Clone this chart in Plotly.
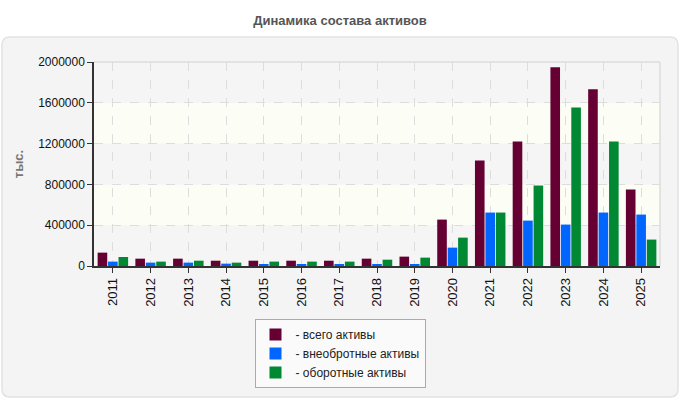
import plotly.graph_objects as go

years = ["2011", "2012", "2013", "2014", "2015", "2016", "2017", "2018", "2019",
         "2020", "2021", "2022", "2023", "2024", "2025"]
total_assets = [131000, 72000, 72000, 52000, 52000, 52000, 52000, 72000, 92000,
                455000, 1034000, 1221000, 1948000, 1732000, 750000]
noncurrent_assets = [43000, 33000, 33000, 23000, 13000, 13000, 13000, 13000, 13000,
                     180000, 524000, 445000, 406000, 524000, 504000]
current_assets = [88000, 43000, 52000, 33000, 43000, 43000, 43000, 62000, 82000,
                  278000, 524000, 789000, 1555000, 1221000, 259000]
y_ticks = [0, 400000, 800000, 1200000, 1600000, 2000000]

names = ["- всего активы", "- внеобротные активы", "- оборотные активы"]
colors = ["#660033", "#0066ff", "#008833"]
series = [total_assets, noncurrent_assets, current_assets]

fig = go.Figure()
for n, c, s in zip(names, colors, series):
    fig.add_trace(go.Bar(x=years, y=s, name=n,
                         marker=dict(color=c, line=dict(width=0))))

W, H = 680, 400
ml, mr, mt, mb = 94, 20, 62, 134
pw, ph = W - ml - mr, H - mt - mb

# bands in plot area
band_shapes = []
for i in range(len(y_ticks) - 1):
    fill = "#f5f5f5" if i % 2 == 0 else "#fcfdf5"
    band_shapes.append(dict(type="rect", xref="x domain", yref="y", x0=0, x1=1,
                            y0=y_ticks[i], y1=y_ticks[i + 1], fillcolor=fill,
                            line=dict(width=0), layer="below"))
band_shapes.append(dict(type="line", xref="x domain", yref="y domain", x0=0, x1=1, y0=1, y1=1,
                        line=dict(color="#dddddd", width=1.5), layer="above"))
band_shapes.append(dict(type="line", xref="x domain", yref="y domain", x0=1, x1=1, y0=0, y1=1,
                        line=dict(color="#dddddd", width=1.5), layer="above"))

# panel as rounded rect in paper coords
px0 = (2 - ml) / pw
px1 = (678 - ml) / pw
py_top = 1 + (mt - 37) / ph
py_bot = -(397 - mt - ph) / ph
rx = 8 / pw
ry = 8 / ph
path = (f"M {px0 + rx},{py_top} L {px1 - rx},{py_top} Q {px1},{py_top} {px1},{py_top - ry} "
        f"L {px1},{py_bot + ry} Q {px1},{py_bot} {px1 - rx},{py_bot} "
        f"L {px0 + rx},{py_bot} Q {px0},{py_bot} {px0},{py_bot + ry} "
        f"L {px0},{py_top - ry} Q {px0},{py_top} {px0 + rx},{py_top} Z")
panel = dict(type="path", xref="paper", yref="paper", path=path, fillcolor="#f4f4f4",
             line=dict(color="#e2e2e2", width=1.5), layer="below")

fig.update_layout(
    width=W, height=H,
    margin=dict(l=ml, r=mr, t=mt, b=mb, autoexpand=False),
    paper_bgcolor="white",
    plot_bgcolor="rgba(0,0,0,0)",
    font=dict(family="Liberation Sans, Arial, sans-serif", size=12, color="#222"),
    title=dict(text="<b>Динамика состава активов</b>", x=0.5, xref="container",
               xanchor="center", y=1 - 20 / H, yref="container", yanchor="middle",
               font=dict(size=13, color="#555555")),
    barmode="group", bargap=0.17, bargroupgap=0.08,
    shapes=[panel] + band_shapes,
    showlegend=True,
    legend=dict(xref="container", yref="container", x=0.5, xanchor="center",
                y=1 - 319 / H, yanchor="top", bgcolor="#fafafa",
                bordercolor="#aaaaaa", borderwidth=1,
                font=dict(size=12, color="#222222"), tracegroupgap=0,
                itemwidth=30),
    xaxis=dict(tickangle=-90, showgrid=True, gridcolor="#dddddd", griddash="dash",
               gridwidth=1, showline=True, linecolor="#333333", linewidth=1.5,
               ticks="outside", ticklen=5, tickcolor="#333333",
               tickfont=dict(size=13, color="#111111"), zeroline=False),
    yaxis=dict(range=[0, 2000000], tickvals=y_ticks, tickformat="d",
               showgrid=True, gridcolor="#dddddd", griddash="dash", gridwidth=1,
               showline=True, linecolor="#333333", linewidth=1.5,
               ticks="outside", ticklen=5, tickcolor="#333333",
               tickfont=dict(size=12, color="#111111"), zeroline=False,
               title=dict(text="<b>тыс.</b>", font=dict(size=13, color="#777777"),
                          standoff=12)),
)

fig.write_html("out.html")
